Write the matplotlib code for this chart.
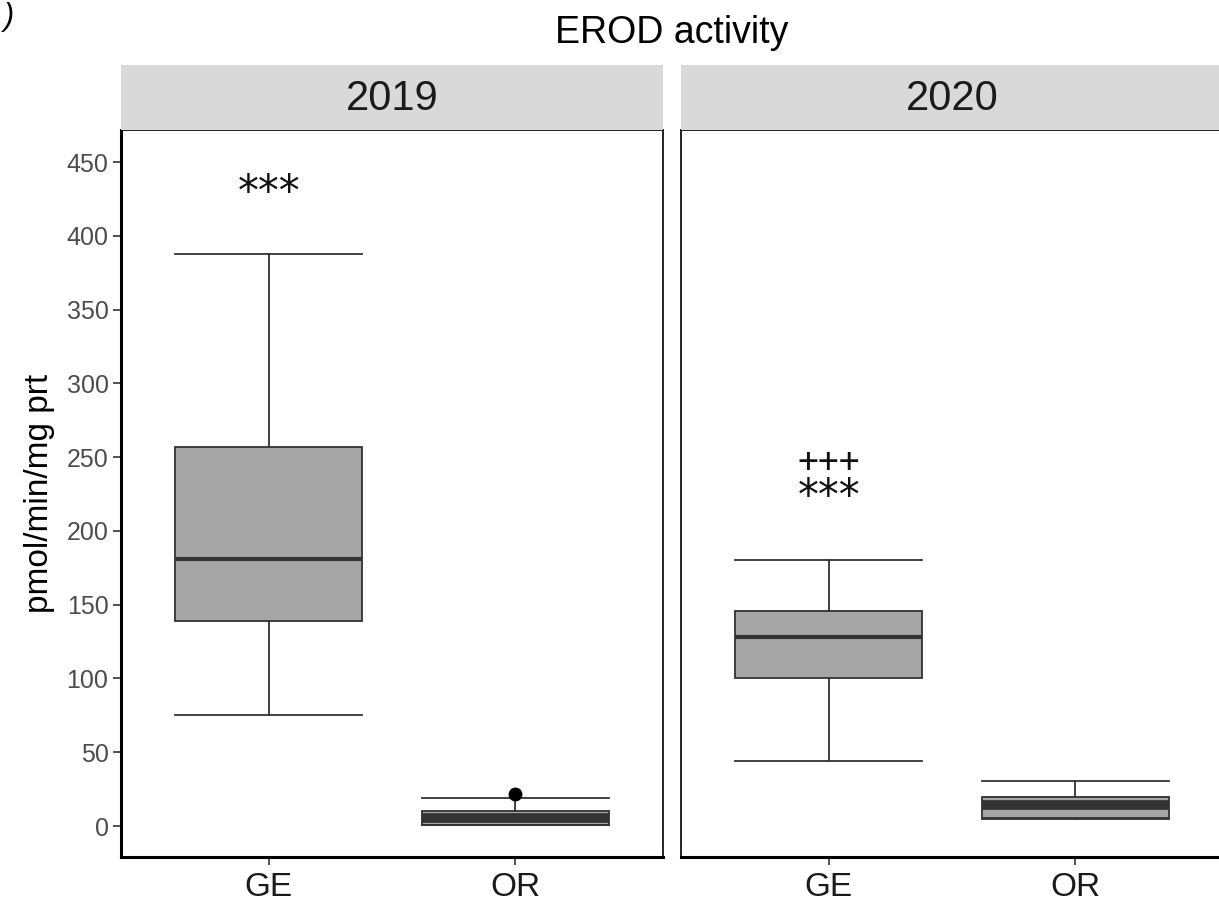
import numpy as np
import matplotlib.pyplot as plt

plt.rcParams['font.family'] = ['Liberation Sans', 'DejaVu Sans']

years = ['2019', '2020']
sites = ['GE', 'OR']

# five-number summaries per year and site (pmol/min/mg prt)
whislo = [[75, 0.5], [44, 5]]
q1 = [[139, 1], [100, 5.5]]
med = [[181, 5.5], [128, 14.5]]
q3 = [[257, 10], [146, 19.5]]
whishi = [[388, 19], [180, 30.5]]
fliers = [[[], [21.7]], [[], []]]

# significance marks above GE boxes
marks = [['***'], ['+++', '***']]
mark_y = [[434], [247, 228]]

W, H = 1219, 902
fig = plt.figure(figsize=(W / 100, H / 100), dpi=100)

panel_left = [121, 681]
panel_w = 542
ax_top, ax_bot = 130, 857
strip_top = 65

dark = '#333333'
med_lw = [3.0, 7.0]
for i, yr in enumerate(years):
    ax = fig.add_axes([panel_left[i] / W, (H - ax_bot) / H,
                       panel_w / W, (ax_bot - ax_top) / H])
    for j in range(2):
        st = dict(whislo=whislo[i][j], q1=q1[i][j], med=med[i][j],
                  q3=q3[i][j], whishi=whishi[i][j],
                  fliers=fliers[i][j], label=sites[j])
        ax.bxp([st], positions=[j + 1], widths=0.76, capwidths=0.76,
               patch_artist=True, manage_ticks=False,
               boxprops=dict(facecolor='#a6a6a6', edgecolor=dark, linewidth=1.3),
               medianprops=dict(color=dark, linewidth=med_lw[j],
                                solid_capstyle='butt'),
               whiskerprops=dict(color=dark, linewidth=1.3),
               capprops=dict(color=dark, linewidth=1.3),
               flierprops=dict(marker='o', markerfacecolor='black',
                               markeredgecolor='black', markersize=9))
    for txt, yv in zip(marks[i], mark_y[i]):
        if txt.startswith('*'):
            # asterisks sit high in the glyph box, so anchor them by the top
            ax.text(1, yv + 9, txt, ha='center', va='top', fontsize=30,
                    family='DejaVu Sans', color='#111111')
        else:
            ax.text(1, yv, txt, ha='center', va='center', fontsize=25,
                    family='DejaVu Sans Mono', color='#111111')

    ax.set_xlim(0.4, 2.6)
    ax.set_ylim(-21, 471.7)
    ax.set_xticks([1, 2])
    ax.set_xticklabels(sites, fontsize=24, color='#1a1a1a')
    for s in ax.spines.values():
        s.set_color('black')
        s.set_linewidth(1.2)
    ax.spines['left'].set_linewidth(2.2)
    ax.spines['bottom'].set_linewidth(2.2)
    ax.tick_params(axis='both', length=6, width=1.2, color='#333333')
    ax.tick_params(axis='x', pad=5)
    if i == 0:
        ax.set_yticks(np.arange(0, 451, 50))
        ax.tick_params(axis='y', labelsize=18, labelcolor='#4d4d4d', pad=3)
        ax.set_ylabel('pmol/min/mg prt', fontsize=24, labelpad=8)
    else:
        ax.set_yticks([])
        ax.spines['left'].set_linewidth(1.2)

    # facet strip
    sax = fig.add_axes([panel_left[i] / W, (H - ax_top) / H,
                        panel_w / W, (ax_top - strip_top) / H])
    sax.set_facecolor('#d9d9d9')
    sax.set_xticks([])
    sax.set_yticks([])
    for s in sax.spines.values():
        s.set_visible(False)
    sax.text(0.5, 0.48, yr, ha='center', va='center', fontsize=30,
             color='#1a1a1a', transform=sax.transAxes)

fig.text(672 / W, (H - 33) / H, 'EROD activity', ha='center', va='center',
         fontsize=27)
fig.text(4 / W, (H - 2) / H, ')', ha='left', va='top', fontsize=22,
         style='italic')

fig.savefig('out.png', dpi=100)
